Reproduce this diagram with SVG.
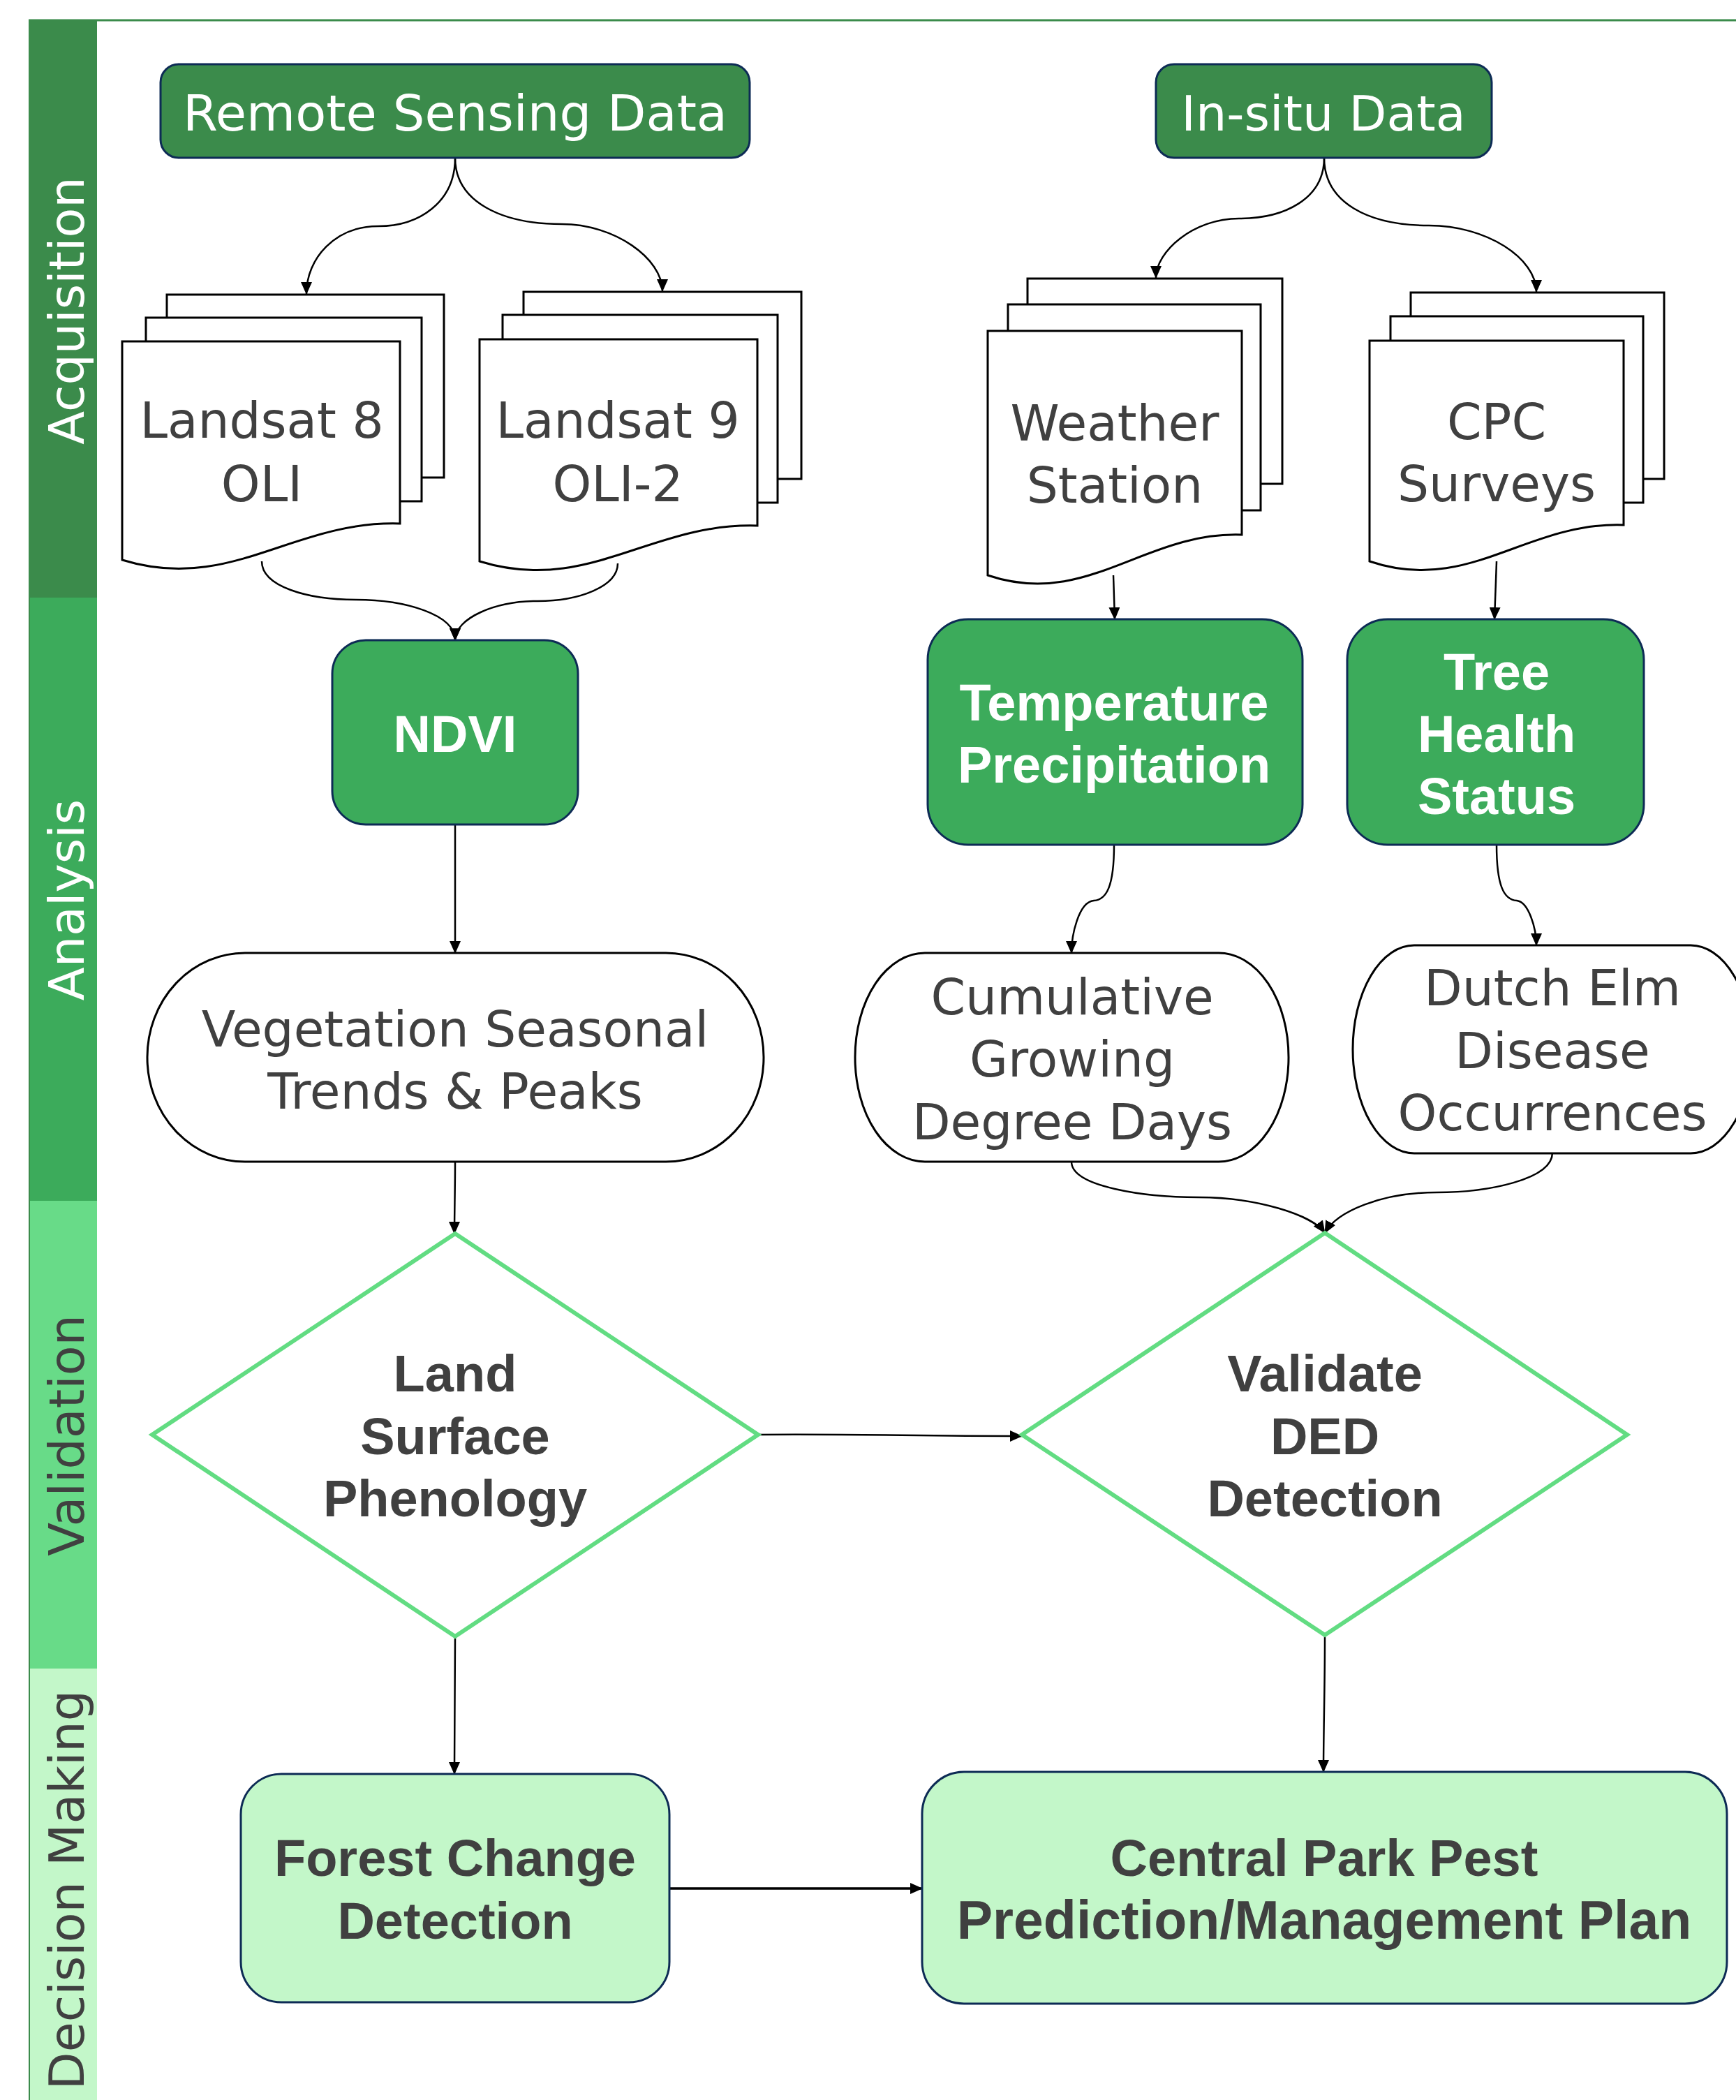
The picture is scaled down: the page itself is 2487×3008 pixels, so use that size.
<svg xmlns="http://www.w3.org/2000/svg" width="2487" height="3008" viewBox="0 0 2487 3008">
<style>
.reg{font-family:"DejaVu Sans","Liberation Sans",sans-serif;font-size:71px;fill:#404040;text-anchor:middle}
.regw{font-family:"DejaVu Sans","Liberation Sans",sans-serif;font-size:70px;fill:#ffffff;text-anchor:middle}
.bold{font-family:"Liberation Sans","DejaVu Sans",sans-serif;font-weight:bold;font-size:74px;fill:#404040;text-anchor:middle}
.boldw{font-family:"Liberation Sans","DejaVu Sans",sans-serif;font-weight:bold;font-size:74px;fill:#ffffff;text-anchor:middle}
.lane{font-family:"DejaVu Sans","Liberation Sans",sans-serif;font-size:70px;text-anchor:middle}
.page{fill:#ffffff;stroke:#000000;stroke-width:3}
.dkbox{fill:#3b8b4b;stroke:#0d2b55;stroke-width:3}
.gbox{fill:#3cab5b;stroke:#0d2b55;stroke-width:3}
.lbox{fill:#c3f7c9;stroke:#0d2b55;stroke-width:3}
.term{fill:#ffffff;stroke:#000000;stroke-width:3}
.dia{fill:#ffffff;stroke:#62dc82;stroke-width:6}
.conn path{fill:none;stroke:#000000;stroke-width:2.5;marker-end:url(#arr)}
</style>
<defs>
<marker id="arr" markerUnits="userSpaceOnUse" markerWidth="18" markerHeight="16" refX="17" refY="8" orient="auto">
<path d="M0,0 L18,8 L0,16 Z" fill="#000000"/>
</marker>
</defs>
<rect x="0" y="0" width="2487" height="3008" fill="#ffffff"/>
<g id="lanes">
<line x1="41" y1="29" x2="2487" y2="29" stroke="#3b8b4b" stroke-width="3"/>
<rect x="41" y="29" width="98" height="827" fill="#3b8b4b"/>
<rect x="41" y="856" width="98" height="864" fill="#3cab5b"/>
<rect x="41" y="1720" width="98" height="670" fill="#68db88"/>
<rect x="41" y="2390" width="98" height="618" fill="#c3f7c9"/>
<line x1="42" y1="29" x2="42" y2="3008" stroke="#3b8b4b" stroke-width="2"/>
<text class="lane" fill="#ffffff" transform="translate(120,445) rotate(-90)">Acquisition</text>
<text class="lane" fill="#ffffff" transform="translate(120,1289) rotate(-90)">Analysis</text>
<text class="lane" fill="#404040" transform="translate(120,2056) rotate(-90)">Validation</text>
<text class="lane" fill="#404040" transform="translate(120,2707) rotate(-90)">Decision Making</text>
</g>
<g class="conn" id="connectors">
<path d="M652,226 C652,290 600,324 542,324 C480,324 439,370 439,421"/>
<path d="M652,226 C652,290 720,321 805,321 C880,321 949,370 949,417"/>
<path d="M375,804 C375,840 440,859 510,859 C580,859 652,880 652,917"/>
<path d="M885,807 C885,840 830,861 770,861 C710,861 652,885 652,917"/>
<path d="M652,1181 L652,1365"/>
<path d="M652,1664 C652,1700 651,1740 651,1767"/>
<path d="M1897,226 C1897,285 1840,313 1775,313 C1710,313 1656,360 1656,398"/>
<path d="M1897,226 C1897,290 1960,323 2047,323 C2130,323 2201,370 2201,418"/>
<path d="M1595,824 L1597,887"/>
<path d="M2144,804 L2141,887"/>
<path d="M1596,1210 C1596,1270 1585,1289 1567,1290 C1545,1292 1535,1340 1535,1365"/>
<path d="M2144,1210 C2144,1270 2155,1289 2173,1290 C2190,1292 2201,1330 2201,1354"/>
<path d="M1535,1664 C1535,1700 1640,1715 1717,1715 C1800,1715 1880,1740 1898,1766"/>
<path d="M2224,1651 C2224,1690 2130,1708 2058,1708 C1980,1708 1915,1735 1898,1766"/>
<path d="M1086,2055 C1250,2054 1300,2057 1464,2057"/>
<path d="M652,2344 C652,2420 651,2480 651,2541"/>
<path d="M1898,2342 C1898,2420 1896,2480 1896,2538"/>
<path d="M959,2705 L1321,2705" style="stroke-width:3.5"/>
</g>
<g id="remote-sensing-data">
<rect class="dkbox" x="230" y="92" width="844" height="134" rx="26"/>
<text class="regw" x="652" y="187" style="font-size:72px">Remote Sensing Data</text>
</g>
<g id="in-situ-data">
<rect class="dkbox" x="1656" y="92" width="481" height="134" rx="26"/>
<text class="regw" x="1896" y="187">In-situ Data</text>
</g>
<g id="landsat-8">
<rect class="page" x="239" y="422" width="397" height="262"/>
<rect class="page" x="209" y="455" width="395" height="263"/>
<path class="page" d="M175,489 H573 V750 C420,745 330,850 175,802 Z"/>
<text class="reg" x="375" y="627">Landsat 8</text>
<text class="reg" x="375" y="718">OLI</text>
</g>
<g id="landsat-9">
<rect class="page" x="750" y="418" width="398" height="268"/>
<rect class="page" x="720" y="451" width="394" height="269"/>
<path class="page" d="M687,486 H1085 V753 C932,748 842,852 687,804 Z"/>
<text class="reg" x="885" y="627">Landsat 9</text>
<text class="reg" x="885" y="718">OLI-2</text>
</g>
<g id="weather-station">
<rect class="page" x="1472" y="399" width="365" height="294"/>
<rect class="page" x="1444" y="436" width="362" height="295"/>
<path class="page" d="M1415,474 H1779 V766 C1639,761 1557,872 1415,824 Z"/>
<text class="reg" x="1597" y="631">Weather</text>
<text class="reg" x="1597" y="720">Station</text>
</g>
<g id="cpc-surveys">
<rect class="page" x="2021" y="419" width="363" height="267"/>
<rect class="page" x="1992" y="453" width="362" height="267"/>
<path class="page" d="M1962,488 H2326 V752 C2186,747 2104,852 1962,804 Z"/>
<text class="reg" x="2144" y="629">CPC</text>
<text class="reg" x="2144" y="718">Surveys</text>
</g>
<g id="ndvi">
<rect class="gbox" x="476" y="917" width="352" height="264" rx="48"/>
<text class="boldw" x="652" y="1077">NDVI</text>
</g>
<g id="temperature-precipitation">
<rect class="gbox" x="1329" y="887" width="537" height="323" rx="58"/>
<text class="boldw" x="1596" y="1032">Temperature</text>
<text class="boldw" x="1596" y="1121">Precipitation</text>
</g>
<g id="tree-health-status">
<rect class="gbox" x="1930" y="887" width="425" height="323" rx="58"/>
<text class="boldw" x="2144" y="988">Tree</text>
<text class="boldw" x="2144" y="1077">Health</text>
<text class="boldw" x="2144" y="1166">Status</text>
</g>
<g id="vegetation-trends">
<rect class="term" x="211" y="1365" width="883" height="299" rx="140" ry="149"/>
<text class="reg" x="652" y="1499">Vegetation Seasonal</text>
<text class="reg" x="652" y="1588">Trends &amp; Peaks</text>
</g>
<g id="cumulative-gdd">
<rect class="term" x="1225" y="1365" width="621" height="299" rx="100" ry="149"/>
<text class="reg" x="1536" y="1453">Cumulative</text>
<text class="reg" x="1536" y="1542">Growing</text>
<text class="reg" x="1536" y="1632">Degree Days</text>
</g>
<g id="dutch-elm-disease">
<rect class="term" x="1938" y="1354" width="572" height="298" rx="88" ry="149"/>
<text class="reg" x="2224" y="1440">Dutch Elm</text>
<text class="reg" x="2224" y="1530">Disease</text>
<text class="reg" x="2224" y="1619">Occurrences</text>
</g>
<g id="land-surface-phenology">
<polygon class="dia" points="652,1767 1086,2055 652,2344 218,2055"/>
<text class="bold" x="652" y="1993">Land</text>
<text class="bold" x="652" y="2083">Surface</text>
<text class="bold" x="652" y="2172">Phenology</text>
</g>
<g id="validate-ded">
<polygon class="dia" points="1898,1766 2331,2055 1898,2342 1464,2055"/>
<text class="bold" x="1898" y="1993">Validate</text>
<text class="bold" x="1898" y="2083">DED</text>
<text class="bold" x="1898" y="2172">Detection</text>
</g>
<g id="forest-change-detection">
<rect class="lbox" x="345" y="2541" width="614" height="327" rx="58"/>
<text class="bold" x="652" y="2687">Forest Change</text>
<text class="bold" x="652" y="2777">Detection</text>
</g>
<g id="central-park-plan">
<rect class="lbox" x="1321" y="2538" width="1153" height="332" rx="60"/>
<text class="bold" x="1897" y="2687">Central Park Pest</text>
<text class="bold" x="1897" y="2777" style="font-size:77px">Prediction/Management Plan</text>
</g>
</svg>
